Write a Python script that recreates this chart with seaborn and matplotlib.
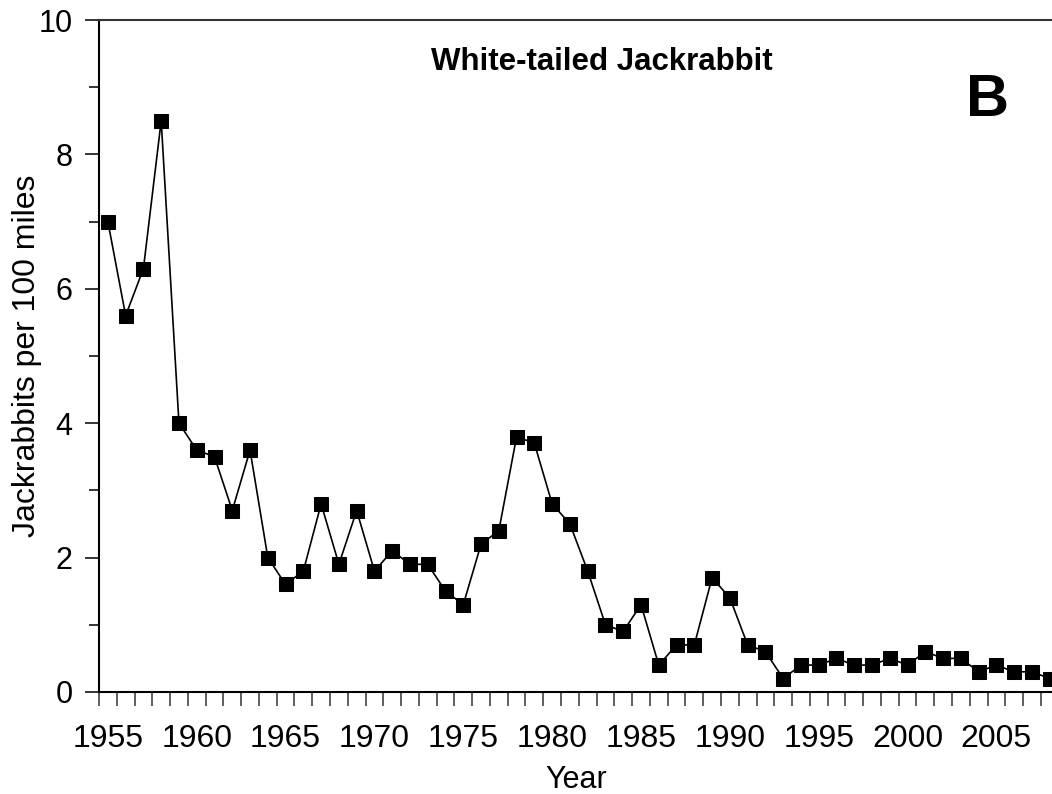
"""
White-tailed Jackrabbit counts per 100 miles of survey route, 1955-2008.
"""

import matplotlib
matplotlib.use("Agg")
import matplotlib.pyplot as plt
from matplotlib.ticker import FixedLocator, MultipleLocator
import seaborn as sns

sns.set_style("ticks")
plt.rcParams["font.family"] = ["Liberation Sans", "DejaVu Sans"]
plt.rcParams["text.color"] = "black"
plt.rcParams["axes.labelcolor"] = "black"
plt.rcParams["xtick.color"] = "black"
plt.rcParams["ytick.color"] = "black"

YEARS = list(range(1955, 2009))
JACKRABBITS = [
    7.0, 5.6, 6.3, 8.5, 4.0, 3.6, 3.5, 2.7, 3.6, 2.0,   # 1955-1964
    1.6, 1.8, 2.8, 1.9, 2.7, 1.8, 2.1, 1.9, 1.9, 1.5,   # 1965-1974
    1.3, 2.2, 2.4, 3.8, 3.7, 2.8, 2.5, 1.8, 1.0, 0.9,   # 1975-1984
    1.3, 0.4, 0.7, 0.7, 1.7, 1.4, 0.7, 0.6, 0.2, 0.4,   # 1985-1994
    0.4, 0.5, 0.4, 0.4, 0.5, 0.4, 0.6, 0.5, 0.5, 0.3,   # 1995-2004
    0.4, 0.3, 0.3, 0.2,                                 # 2005-2008
]
YEAR_LABELS = list(range(1955, 2009, 5))
Y_TICKS = [0, 2, 4, 6, 8, 10]

fig = plt.figure(figsize=(10.52, 7.94), dpi=100)
# axes runs a little past the right edge, like the original export
ax = fig.add_axes([0.0941, 0.1285, 0.9122, 0.8463])

sns.lineplot(
    x=YEARS, y=JACKRABBITS, ax=ax, color="black", linewidth=1.2,
    marker="s", markersize=10, markeredgecolor="black", markerfacecolor="black",
    clip_on=False,
)

ax.set_xlim(1954.5, 2008.5)
ax.set_ylim(0, 10)

# year labels sit at category centres, tick marks at the boundaries
ax.xaxis.set_major_locator(FixedLocator(YEAR_LABELS))
ax.xaxis.set_minor_locator(FixedLocator([y - 0.5 for y in YEARS] + [2008.5]))
ax.tick_params(axis="x", which="major", length=0, pad=23, labelsize=23)
ax.tick_params(axis="x", which="minor", length=10, width=1.1, color="#333333")

ax.yaxis.set_major_locator(FixedLocator(Y_TICKS))
ax.yaxis.set_minor_locator(MultipleLocator(1))
ax.tick_params(axis="y", which="major", length=10, width=1.1, pad=9, labelsize=22)
ax.tick_params(axis="y", which="minor", length=7, width=1.1)

for side in ["left", "bottom"]:
    ax.spines[side].set_linewidth(1.5)
    ax.spines[side].set_color("black")
ax.spines["top"].set_visible(True)
ax.spines["top"].set_linewidth(1.5)
ax.spines["top"].set_color("#333333")
ax.spines["right"].set_visible(False)

ax.set_xlabel("Year", fontsize=22)
ax.set_ylabel("Jackrabbits per 100 miles", fontsize=23)
ax.xaxis.set_label_coords(0.4975, -0.108)
ax.yaxis.set_label_coords(-0.0594, 0.5)

fig.text(0.572, 0.922, "White-tailed Jackrabbit", fontsize=22.5, fontweight="bold",
         ha="center", va="center")
fig.text(0.9385, 0.874, "B", fontsize=43, fontweight="bold", ha="center", va="center")

fig.savefig("out.png", dpi=100)
plt.close(fig)
